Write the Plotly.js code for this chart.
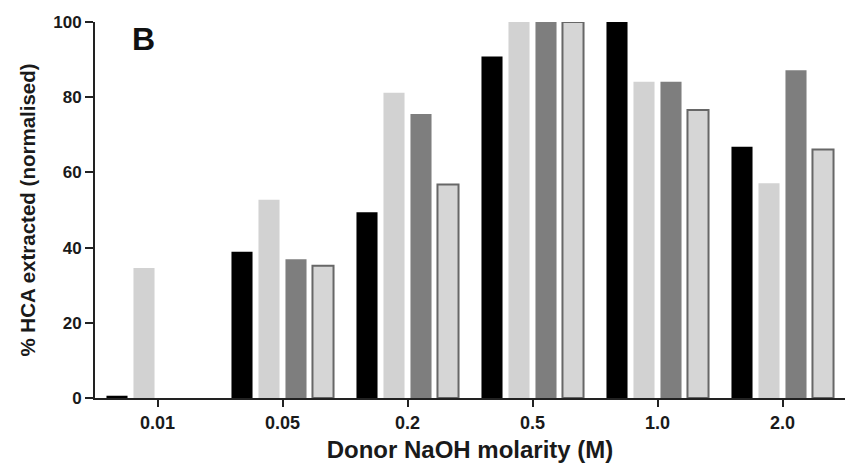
<!DOCTYPE html>
<html>
<head>
<meta charset="utf-8">
<script src="https://cdn.plot.ly/plotly-3.0.1.min.js"></script>
<style>html,body{margin:0;padding:0;background:#fff;}#chart{width:846px;height:472px;}</style>
</head>
<body>
<div id="chart"></div>
<script>
const categories = ["0.01", "0.05", "0.2", "0.5", "1.0", "2.0"];
const seriesA = [0.6, 38.9, 49.4, 90.8, 100, 66.8];
const seriesB = [34.6, 52.7, 81.2, 100, 84.1, 57.1];
const seriesC = [null, 36.9, 75.5, 100, 84.1, 87.2];
const seriesD = [null, 35.2, 56.8, 100, 76.6, 66.1];

const font = "Liberation Sans, Arial, sans-serif";
function bar(y, fill, lineColor, lineWidth) {
  return {type: "bar", x: categories, y: y, showlegend: false,
    marker: {color: fill, line: {color: lineColor, width: lineWidth}}, cliponaxis: false};
}
const data = [
  bar(seriesA, "#000000", "#000000", 0),
  bar(seriesB, "#d2d2d2", "#d2d2d2", 0),
  bar(seriesC, "#7e7e7e", "#7e7e7e", 0),
  bar(seriesD, "#d6d6d6", "#676767", 2)
];
const layout = {
  width: 846, height: 472,
  margin: {l: 95, r: 1, t: 22, b: 74},
  paper_bgcolor: "#fff", plot_bgcolor: "#fff",
  barmode: "group", bargap: 0.136, bargroupgap: 0.22,
  font: {family: font, color: "#1a1a1a"},
  xaxis: {type: "category", range: [-0.5, 5.5], showgrid: false, zeroline: false,
    showline: true, linecolor: "#222", linewidth: 2, ticks: "outside", ticklen: 7, tickwidth: 2, tickcolor: "#222",
    tickfont: {size: 18, family: font, weight: "bold"},
    title: {text: "<b>Donor NaOH molarity (M)</b>", font: {size: 24, family: font}, standoff: 10}},
  yaxis: {range: [0, 100], showgrid: false, zeroline: false, tickvals: [0, 20, 40, 60, 80, 100],
    showline: true, linecolor: "#222", linewidth: 2, ticks: "outside", ticklen: 8, tickwidth: 2, tickcolor: "#222",
    tickfont: {size: 17, family: font, weight: "bold"},
    title: {text: "<b>% HCA extracted (normalised)</b>", font: {size: 20.5, family: font}, standoff: 12}},
  annotations: [{text: "<b>B</b>", xref: "paper", yref: "paper", x: 0.064, y: 0.955, showarrow: false,
    font: {size: 32, family: font, color: "#111"}, xanchor: "center", yanchor: "middle"}]
};
Plotly.newPlot("chart", data, layout, {displayModeBar: false, staticPlot: true});
</script>
</body>
</html>
